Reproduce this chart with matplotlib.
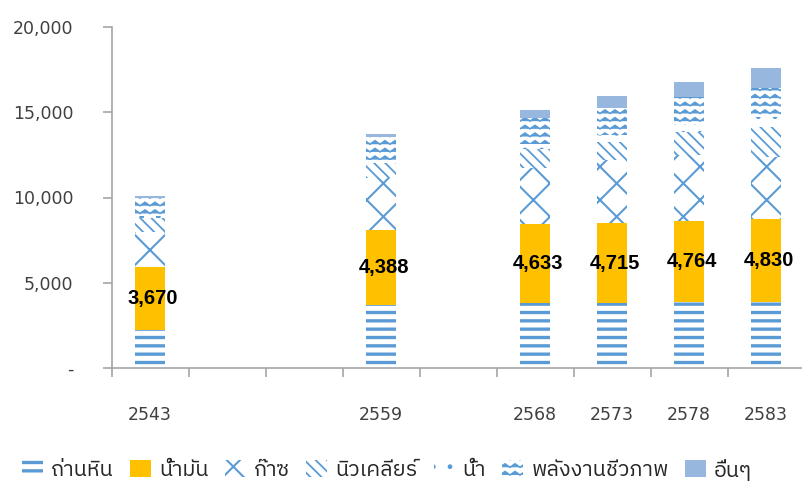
import numpy as np
import matplotlib
matplotlib.use("Agg")
import matplotlib.pyplot as plt
import matplotlib.hatch as mhatch
from matplotlib.path import Path
from matplotlib import font_manager
from matplotlib.ft2font import FT2Font
from matplotlib.ticker import FuncFormatter, FixedLocator

# ---------------- data ----------------
categories = ['2543', '', '', '2559', '', '2568', '2573', '2578', '2583']
coal    = [2250, 0, 0, 3700, 0, 3800, 3800, 3860, 3890]
oil     = [3670, 0, 0, 4388, 0, 4633, 4715, 4764, 4830]
gas     = [2050, 0, 0, 3030, 0, 3270, 3680, 3870, 3650]
nuclear = [800, 0, 0, 880, 0, 1170, 1070, 1370, 1780]
water   = [150, 0, 0, 200, 0, 290, 390, 390, 590]
biomass = [1050, 0, 0, 1330, 0, 1500, 1620, 1660, 1700]
others  = [120, 0, 0, 190, 0, 490, 660, 840, 1140]
series_names = ['ถ่านหิน', 'น้ำมัน', 'ก๊าซ', 'นิวเคลียร์', 'น้ำ', 'พลังงานชีวภาพ', 'อื่นๆ']
y_ticks = [0, 5000, 10000, 15000, 20000]

# ---------------- custom wave hatch ('v') ----------------
class WaveHatch(mhatch.HatchPatternBase):
    def __init__(self, hatch, density):
        self.rows = int(round(hatch.count('v') * density * 2.2))
        self.segs = 20
        self.num_vertices = self.rows * (self.segs + 1) if self.rows else 0

    def set_vertices_and_codes(self, vertices, codes):
        n = self.segs + 1
        step = 1.0 / self.rows
        xs = np.linspace(0, 1, n)
        amp = np.where(np.arange(n) % 2 == 0, 0.0, step * 0.45)
        for r in range(self.rows):
            y0 = r * step + step * 0.25
            vertices[r * n:(r + 1) * n, 0] = xs
            vertices[r * n:(r + 1) * n, 1] = y0 + amp
            codes[r * n] = Path.MOVETO
            codes[r * n + 1:(r + 1) * n] = Path.LINETO

if WaveHatch not in mhatch._hatch_types:
    mhatch._hatch_types.append(WaveHatch)
_orig_validate = mhatch._validate_hatch_pattern
def _validate(h):
    if h is not None:
        h = h.replace('v', '')
    return _orig_validate(h if h else None)
mhatch._validate_hatch_pattern = _validate

# ---------------- fonts ----------------
def find_thai_font():
    pref = []
    other = []
    for f in font_manager.fontManager.ttflist:
        try:
            ft = FT2Font(f.fname)
            if ft.get_char_index(0x0E01) and ft.get_char_index(0x0E49):
                if 'Thai' in f.name or 'Tahoma' in f.name or 'Sarabun' in f.name:
                    pref.append(f.name)
                else:
                    other.append(f.name)
        except Exception:
            pass
    for lst in (pref, other):
        for n in lst:
            if 'Looped' not in n and 'UI' not in n:
                return n
        if lst:
            return lst[0]
    return None

thai = find_thai_font()
fams = ([thai] if thai else []) + ['DejaVu Sans']
plt.rcParams['font.family'] = fams

# ---------------- figure ----------------
fig = plt.figure(figsize=(8.02, 4.88), dpi=100)
ax = fig.add_axes([111.5 / 802, 1 - 368 / 488, (804.5 - 111.5) / 802, (368 - 27) / 488])

x = np.arange(len(categories))
mask = np.array([c != '' for c in categories])
xs = x[mask]
w = 0.4
blue = '#5B9BD5'
orange = '#FFC000'
light = '#97B7DF'

def sel(a):
    return np.array(a, dtype=float)[mask]

layers = [
    (coal,    dict(facecolor='white', edgecolor=blue, hatch='--'), 2.4),
    (oil,     dict(facecolor=orange, edgecolor=orange), 1.0),
    (gas,     dict(facecolor='white', edgecolor=blue, hatch='x'), 1.5),
    (nuclear, dict(facecolor='white', edgecolor=blue, hatch='\\\\\\'), 1.3),
    (water,   dict(facecolor='white', edgecolor=blue, hatch='.'), 1.0),
    (biomass, dict(facecolor='white', edgecolor=blue, hatch='v'), 1.2),
    (others,  dict(facecolor=light, edgecolor=light), 1.0),
]

bottom = np.zeros(mask.sum())
handles = []
hlws = []
for (vals, style, hlw), name in zip(layers, series_names):
    v = sel(vals)
    with plt.rc_context({'hatch.linewidth': hlw}):
        bars = ax.bar(xs, v, w, bottom=bottom, linewidth=0, label=name, **style)
    for b in bars:
        b.set_hatch_linewidth(hlw)
    handles.append(bars)
    hlws.append(hlw)
    if name == 'น้ำมัน':
        for xi, bi, vi in zip(xs, bottom, v):
            ax.text(xi + 0.04, bi + vi / 2, f'{vi:,.0f}', ha='center', va='center',
                    fontsize=14.5, fontweight='bold', color='black',
                    family=['Liberation Sans', 'DejaVu Sans'])
    bottom = bottom + v

ax.set_xlim(-0.5, len(categories) - 0.5)
ax.set_ylim(0, 20000)
ax.set_yticks(y_ticks)
ax.yaxis.set_major_formatter(FuncFormatter(lambda v, p: '-' if v == 0 else f'{v:,.0f}'))
ax.set_xticks(x)
ax.set_xticklabels(categories)
ax.xaxis.set_minor_locator(FixedLocator(np.arange(-0.5, len(categories) - 0.5, 1.0)))

grey = '#A6A6A6'
for s in ['top', 'right']:
    ax.spines[s].set_visible(False)
for s in ['left', 'bottom']:
    ax.spines[s].set_color(grey)
    ax.spines[s].set_linewidth(1.2)

ax.tick_params(axis='y', length=6.5, color=grey, width=1.2, pad=21, labelsize=12.5, labelcolor='#404040')
ax.tick_params(axis='x', which='major', length=0, pad=27, labelsize=12.5, labelcolor='#404040')
ax.tick_params(axis='x', which='minor', length=6.5, color=grey, width=1.2)
for lab in ax.get_xticklabels() + ax.get_yticklabels():
    lab.set_fontfamily(['DejaVu Sans'])

leg = fig.legend(handles=handles, labels=series_names, loc='center', bbox_to_anchor=(0.483, 1 - 470 / 488),
                 ncol=7, frameon=False, fontsize=15.5, handlelength=0.95, handleheight=0.8,
                 handletextpad=0.4, columnspacing=0.75, labelcolor='#262626')
for p, hlw in zip(leg.get_patches(), hlws):
    p.set_hatch_linewidth(hlw)

fig.savefig('out.png', dpi=100)
